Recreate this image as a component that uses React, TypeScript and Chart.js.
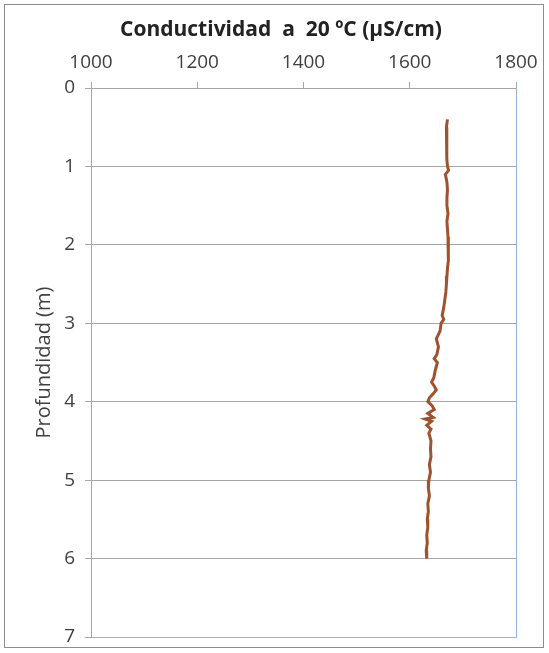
import React, { useEffect, useRef } from "react";
import { Chart, registerables } from "chart.js";

Chart.register(...registerables);

const TITLE = "Conductividad  a  20 ºC (µS/cm)";
const Y_TITLE = "Profundidad (m)";

const depths = [
  0.4, 0.5, 0.6, 0.7, 0.8, 0.9, 1.0, 1.05, 1.1, 1.2, 1.3, 1.4, 1.5, 1.6, 1.7, 1.8, 1.9,
  2.0, 2.1, 2.2, 2.3, 2.4, 2.5, 2.6, 2.7, 2.8, 2.9, 2.95, 3.0, 3.1, 3.2, 3.3, 3.4, 3.45,
  3.5, 3.6, 3.7, 3.75, 3.8, 3.85, 3.9, 3.95, 4.0, 4.05, 4.1, 4.15, 4.2, 4.22, 4.25, 4.3,
  4.35, 4.4, 4.5, 4.6, 4.7, 4.8, 4.9, 5.0, 5.1, 5.2, 5.3, 5.4, 5.5, 5.6, 5.7, 5.8, 5.9, 6.0,
];

const conductivity = [
  1671, 1669, 1670, 1669, 1670, 1670, 1671, 1673, 1667, 1670, 1671, 1670, 1670, 1672, 1670, 1671, 1672,
  1673, 1672, 1673, 1671, 1670, 1669, 1668, 1666, 1664, 1661, 1664, 1659, 1657, 1650, 1654, 1651, 1646,
  1652, 1648, 1645, 1641, 1646, 1650, 1644, 1637, 1634, 1642, 1646, 1634, 1644, 1629, 1641, 1632,
  1640, 1636, 1640, 1639, 1640, 1637, 1639, 1636, 1635, 1637, 1634, 1635, 1633, 1634, 1632, 1633, 1631, 1632,
];

const X_MIN = 1000;
const X_MAX = 1800;
const X_STEP = 200;
const Y_MIN = 0;
const Y_MAX = 7;
const Y_STEP = 1;

const FONT = "'Open Sans', 'Noto Sans', sans-serif";

export default function App() {
  const canvasRef = useRef<HTMLCanvasElement | null>(null);

  useEffect(() => {
    if (!canvasRef.current) return;
    const frame = {
      id: "plotFrame",
      afterDraw(chart: any) {
        const { ctx, chartArea } = chart;
        ctx.save();
        ctx.strokeStyle = "#95b3d7";
        ctx.lineWidth = 1;
        ctx.beginPath();
        ctx.moveTo(Math.round(chartArea.right) + 0.5, chartArea.top);
        ctx.lineTo(Math.round(chartArea.right) + 0.5, Math.round(chartArea.bottom) + 0.5);
        ctx.lineTo(chartArea.left, Math.round(chartArea.bottom) + 0.5);
        ctx.stroke();
        ctx.fillStyle = "#222";
        ctx.font = `bold 21px ${FONT}`;
        ctx.textAlign = "center";
        ctx.textBaseline = "middle";
        ctx.fillText(TITLE, 281, 30);
        ctx.restore();
      },
    };
    const chart = new Chart(canvasRef.current, {
      type: "scatter",
      data: {
        datasets: [
          {
            data: depths.map((d, i) => ({ x: conductivity[i], y: d })),
            showLine: true,
            borderColor: "#a0522d",
            backgroundColor: "#a0522d",
            borderWidth: 3,
            pointRadius: 0,
            tension: 0,
          },
        ],
      },
      options: {
        animation: false,
        responsive: false,
        layout: { padding: { left: 0, right: 33, top: 0, bottom: 16 } },
        plugins: {
          legend: { display: false },
          tooltip: { enabled: false },
          title: { display: false },
        },
        scales: {
          x: {
            type: "linear",
            position: "top",
            min: X_MIN,
            max: X_MAX,
            afterFit: (s: any) => {
              s.height = 88;
              s.paddingLeft = 0;
              s.paddingRight = 0;
            },
            ticks: {
              stepSize: X_STEP,
              color: "#404040",
              font: { family: FONT, size: 19 },
              padding: 8,
              maxRotation: 0,
              callback: (v: any) => String(v),
            },
            grid: {
              drawOnChartArea: false,
              drawTicks: true,
              tickLength: 6,
              color: "#a6a6a6",
            },
            border: { display: true, color: "#a6a6a6" },
          },
          y: {
            type: "linear",
            reverse: true,
            min: Y_MIN,
            max: Y_MAX,
            afterFit: (s: any) => {
              s.width = 91;
              s.paddingTop = 0;
              s.paddingBottom = 0;
            },
            ticks: {
              stepSize: Y_STEP,
              color: "#404040",
              font: { family: FONT, size: 19 },
              padding: 10,
              callback: (v: any) => String(v),
            },
            grid: {
              color: "#a6a6a6",
              tickLength: 6,
            },
            border: { display: true, color: "#a6a6a6" },
            title: {
              display: true,
              text: Y_TITLE,
              color: "#404040",
              font: { family: FONT, size: 20, lineHeight: 1.2 },
              padding: { top: 32, bottom: 0 },
            },
          },
        },
      },
      plugins: [frame],
    });
    return () => chart.destroy();
  }, []);

  return (
    <div
      style={{
        position: "fixed",
        left: 0,
        top: 0,
        width: 549,
        height: 653,
        background: "#fff",
      }}
    >
      <div
        style={{
          position: "absolute",
          left: 4,
          top: 4,
          width: 540,
          height: 644,
          border: "1px solid #8c8c8c",
          boxSizing: "border-box",
        }}
      />
      <canvas
        ref={canvasRef}
        width={549}
        height={653}
        style={{ position: "absolute", left: 0, top: 0, width: 549, height: 653 }}
      />
    </div>
  );
}
